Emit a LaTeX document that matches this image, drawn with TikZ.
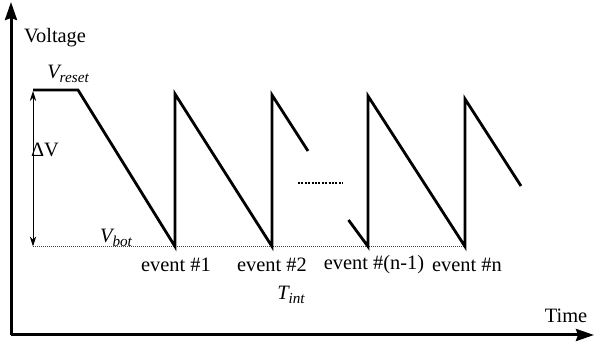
\documentclass[tikz,border=0pt]{standalone}
\usepackage{fontspec}
\setmainfont{Liberation Serif}
\usetikzlibrary{arrows.meta}
\newcommand{\mysub}[1]{\raisebox{-0.35ex}{\fontsize{7.6}{9}\selectfont #1}}
\begin{document}
\begin{tikzpicture}[x=0.5pt,y=-0.5pt,
  axis/.style={line width=1.5pt,-{Stealth[length=9pt,width=6pt,inset=1pt]}},
  saw/.style={line width=1.4pt,line cap=butt,line join=miter},
  lbl/.style={inner sep=0pt,font=\fontsize{10.2}{12}\selectfont},
  thinarrow/.style={line width=0.5pt,{Stealth[length=5pt,width=3.2pt]}-{Stealth[length=5pt,width=3.2pt]}},
  baseline dots/.style={line width=0.5pt,dash pattern=on 0.5pt off 0.5pt,black!75}]
\useasboundingbox (0,0) rectangle (594,346);
% axes
\coordinate (O) at (11,335);
\coordinate (Ytop) at (11,2);
\coordinate (Xend) at (594,335);
\draw[axis] (O) -- (Ytop);
\draw[axis] (O) -- (Xend);
% sawtooth points
\coordinate (r0) at (33,90);
\coordinate (r1) at (78,90);
\coordinate (e1) at (175,246.5);
\coordinate (t1) at (175,94);
\coordinate (e2) at (272,246.5);
\coordinate (t2) at (272,95);
\coordinate (c2) at (308,151);
\coordinate (s3) at (348.5,220);
\coordinate (e3) at (368,246.5);
\coordinate (t3) at (368,96);
\coordinate (e4) at (465,246.5);
\coordinate (t4) at (465,99);
\coordinate (c4) at (521,186);
\coordinate (b0) at (33,246.5);
\coordinate (d0) at (298,183);
\coordinate (d1) at (343,183);
% baseline
\draw[baseline dots] (b0) -- (e4);
% waveform
\draw[saw] (r0) -- (r1) -- (e1) -- (t1) -- (e2) -- (t2) -- (c2);
\draw[saw] (s3) -- (e3) -- (t3) -- (e4) -- (t4) -- (c4);
\draw[line width=1pt,dash pattern=on 1pt off 0.7pt] (d0) -- (d1);
% delta V arrow
\coordinate (a0) at (33,91);
\draw[thinarrow] (a0) -- (b0);
% labels
\node[lbl] (volt) at (55,38) {Voltage};
\node[lbl] (vres) at (68,74) {\itshape V\mysub{reset}};
\node[lbl] (dv) at (45,150) {ΔV};
\node[lbl] (vbot) at (116,238) {\itshape V\mysub{bot}};
\node[lbl] (ev1) at (176,265) {event \#1};
\node[lbl] (ev2) at (272,265) {event \#2};
\node[lbl] (ev3) at (374,265) {event \#(n-1)};
\node[lbl] (ev4) at (467,265) {event \#n};
\node[lbl] (tint) at (291,295) {\itshape T\mysub{int}};
\node[lbl] (time) at (566,316) {Time};
\end{tikzpicture}
\end{document}
